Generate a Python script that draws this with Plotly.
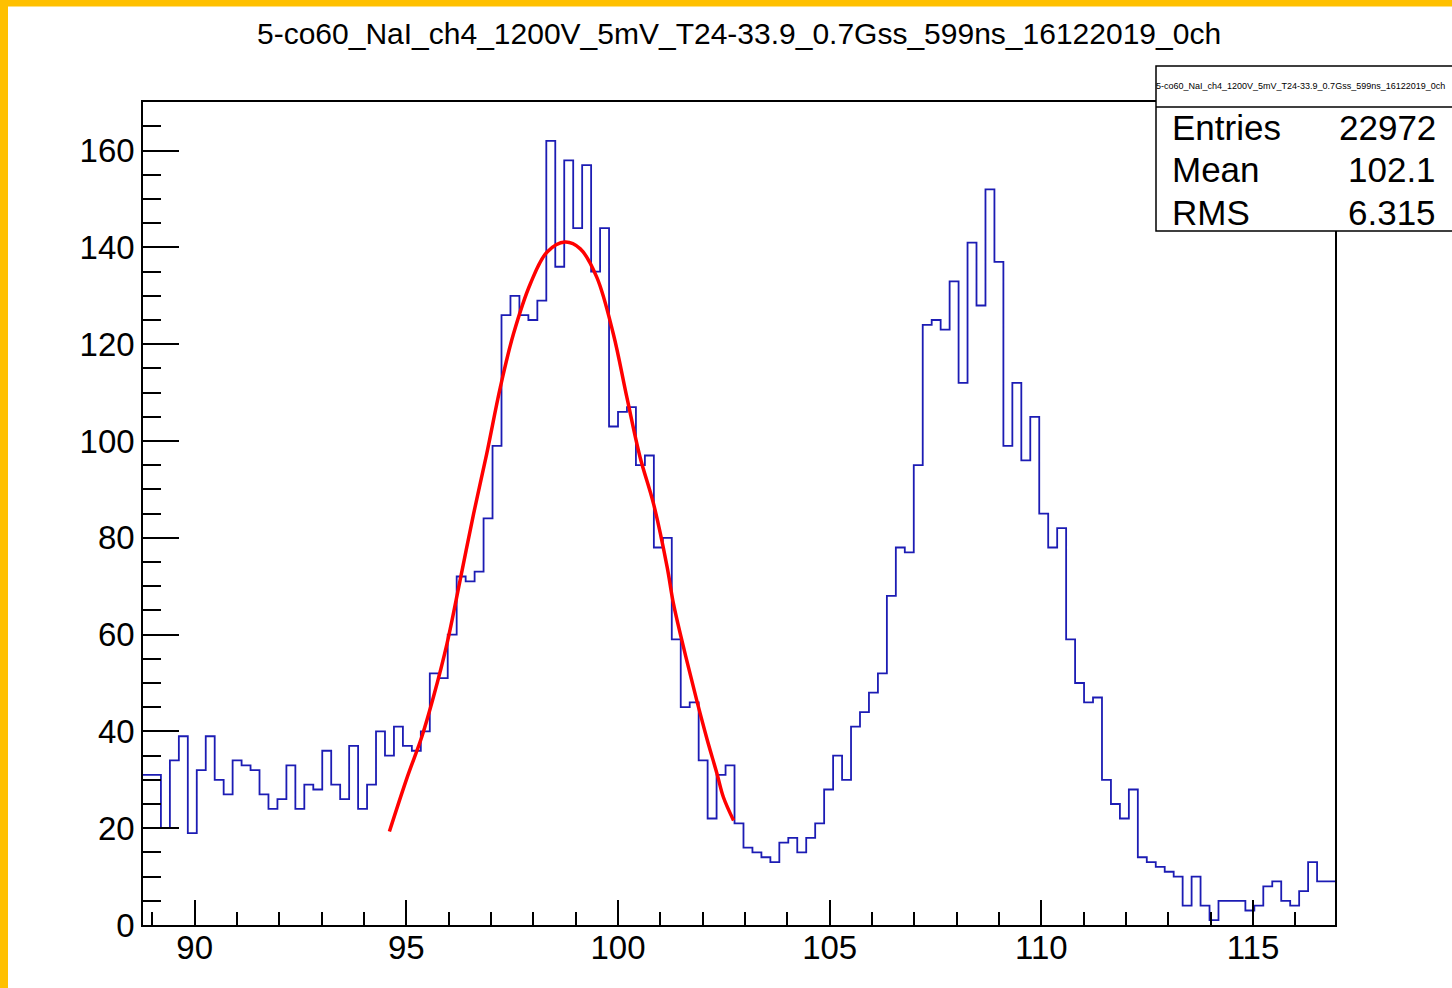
import plotly.graph_objects as go

# histogram: 133 bins, first bin starts at x_min
x_min = 88.78
bin_width = 0.2117
counts = [31, 31, 20, 34, 39, 19, 32, 39, 30, 27,
          34, 33, 32, 27, 24, 26, 33, 24, 29, 28,
          36, 29, 26, 37, 24, 29, 40, 35, 41, 37,
          36, 40, 52, 51, 60, 72, 71, 73, 84, 99,
          126, 130, 126, 125, 129, 162, 136, 158, 144, 157,
          135, 144, 103, 106, 107, 95, 97, 78, 80, 59,
          45, 46, 34, 22, 31, 33, 21, 16, 15, 14,
          13, 17, 18, 15, 18, 21, 28, 35, 30, 41,
          44, 48, 52, 68, 78, 77, 95, 124, 125, 123,
          133, 112, 141, 128, 152, 137, 99, 112, 96, 105,
          85, 78, 82, 59, 50, 46, 47, 30, 25, 22,
          28, 14, 13, 12, 11, 10, 4, 10, 4, 1,
          5, 5, 5, 3, 4, 8, 9, 5, 4, 7,
          13, 9, 9]

# gaussian fit curve
fit_x = [94.60, 95.02, 95.37, 95.64, 95.96, 96.27, 96.59, 96.90, 97.22, 97.53, 97.93,
         98.32, 98.75, 99.11, 99.50, 99.89, 100.21, 100.52, 100.84, 101.16, 101.31,
         101.60, 101.86, 102.10, 102.34, 102.49, 102.73]
fit_y = [19.3, 30.5, 39.0, 47.1, 58.1, 71.2, 85.0, 97.4, 111.1, 122.1, 132.5,
         139.0, 141.1, 139.7, 133.8, 122.1, 109.0, 96.7, 87.0, 74.0, 66.4,
         55.5, 46.4, 38.5, 31.2, 26.4, 21.6]

title = "5-co60_NaI_ch4_1200V_5mV_T24-33.9_0.7Gss_599ns_16122019_0ch"
stat_names = ["Entries", "Mean", "RMS"]
stat_values = ["22972", "102.1", "6.315"]

W, H = 1452, 988
L, R, T, B = 143, 1335, 102, 925   # plot frame in pixels


def px(x):
    return (x - L) / (R - L)


def py(y):
    return (B - y) / (B - T)


edges = [x_min + i * bin_width for i in range(len(counts) + 1)]

fig = go.Figure()
fig.add_trace(go.Scatter(x=edges, y=counts + [counts[-1]], mode="lines",
                         line=dict(color="#1c1cb4", width=1.8, shape="hv"),
                         hoverinfo="skip"))
fig.add_trace(go.Scatter(x=fit_x, y=fit_y, mode="lines",
                         line=dict(color="#ff0000", width=3.5, shape="spline"),
                         hoverinfo="skip"))

axis_font = dict(family="Liberation Sans, Arial", size=33, color="black")
fig.update_xaxes(range=[x_min, x_min + len(counts) * bin_width], tick0=90, dtick=5,
                 ticks="inside", ticklen=25, tickwidth=1.5, tickcolor="black",
                 minor=dict(ticks="inside", ticklen=13, dtick=1, tick0=90,
                            tickcolor="black", tickwidth=1.5),
                 showline=True, linecolor="black", linewidth=1.5, mirror=True,
                 showgrid=False, zeroline=False, tickfont=axis_font,
                 ticklabelstandoff=-7)
fig.update_yaxes(range=[0, (B - T) / 4.84], tick0=0, dtick=20,
                 ticks="inside", ticklen=36, tickwidth=1.5, tickcolor="black",
                 minor=dict(ticks="inside", ticklen=18, dtick=5,
                            tickcolor="black", tickwidth=1.5),
                 showline=True, linecolor="black", linewidth=1.5, mirror=True,
                 showgrid=False, zeroline=False, tickfont=axis_font)

shapes = [
    # yellow frame strips
    dict(type="rect", xref="paper", yref="paper", x0=px(-5), x1=px(8), y0=py(-5), y1=py(H + 5),
         fillcolor="#ffc000", line_width=0, layer="above"),
    dict(type="rect", xref="paper", yref="paper", x0=px(-5), x1=px(W + 5), y0=py(-5), y1=py(6.5),
         fillcolor="#ffc000", line_width=0, layer="above"),
    # stats box
    dict(type="rect", xref="paper", yref="paper", x0=px(1156), x1=px(1470), y0=py(231), y1=py(66),
         fillcolor="white", line=dict(color="black", width=1.5), layer="above"),
    dict(type="line", xref="paper", yref="paper", x0=px(1156), x1=px(1470), y0=py(107), y1=py(107),
         line=dict(color="black", width=1.5), layer="above"),
]

annotations = [
    dict(text=title, xref="paper", yref="paper", x=0.5, y=py(33), showarrow=False,
         xanchor="center", yanchor="middle",
         font=dict(family="Liberation Sans, Arial", size=30, color="black")),
    dict(text=title, xref="paper", yref="paper", x=px(1154), y=py(86), showarrow=False,
         xanchor="left", yanchor="middle",
         font=dict(family="Liberation Sans, Arial", size=9, color="black")),
]
for i, (name, val) in enumerate(zip(stat_names, stat_values)):
    yc = py(127 + 42.5 * i)
    annotations.append(dict(text=name, xref="paper", yref="paper", x=px(1170), y=yc,
                            showarrow=False, xanchor="left", yanchor="middle",
                            font=dict(family="Liberation Sans, Arial", size=35, color="black")))
    annotations.append(dict(text=val, xref="paper", yref="paper", x=px(1438), y=yc,
                            showarrow=False, xanchor="right", yanchor="middle",
                            font=dict(family="Liberation Sans, Arial", size=35, color="black")))

fig.update_layout(width=W, height=H, margin=dict(l=L, r=W - R, t=T, b=H - B),
                  paper_bgcolor="white", plot_bgcolor="white", showlegend=False,
                  shapes=shapes, annotations=annotations)

# drop the default page margin so the figure sits at the window corner
fig.write_html("out.html", config={"displayModeBar": False},
               post_script="document.body.style.margin='0';")
